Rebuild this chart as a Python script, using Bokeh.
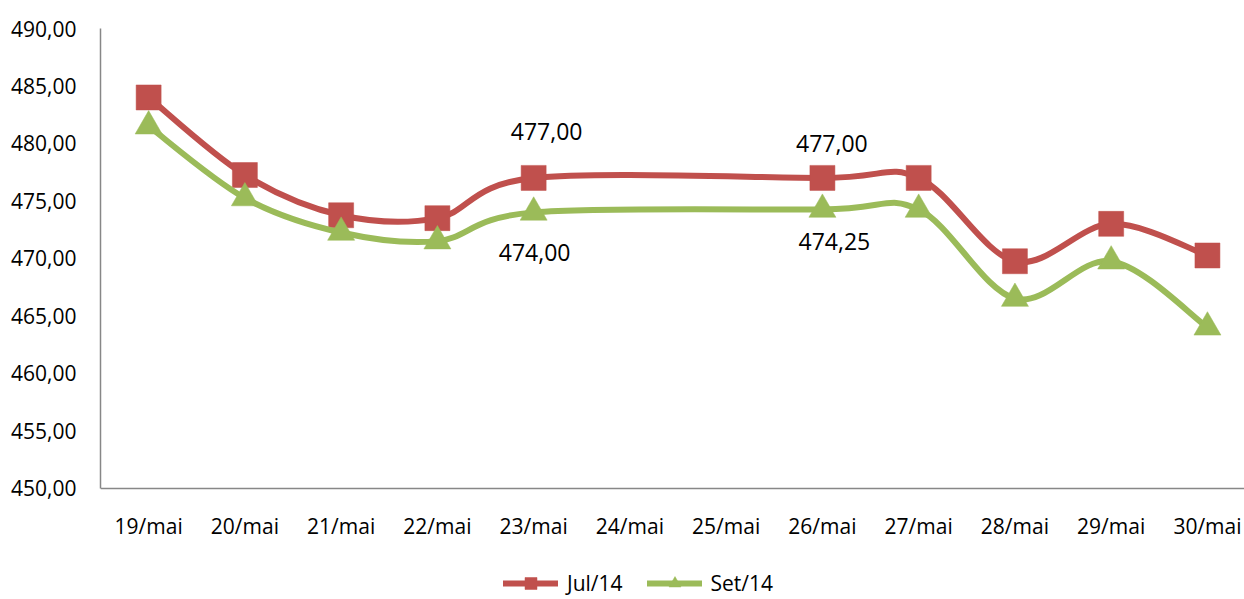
from bokeh.plotting import figure
from bokeh.models import ColumnDataSource, Range1d, FixedTicker, Legend, LegendItem
from bokeh.core.properties import value
from bokeh.embed import file_html
from bokeh.resources import INLINE

# ---------------- data ----------------
dates = ["19/mai", "20/mai", "21/mai", "22/mai", "23/mai", "24/mai",
         "25/mai", "26/mai", "27/mai", "28/mai", "29/mai", "30/mai"]
jul14 = [484.00, 477.25, 473.75, 473.50, 477.00, None, None,
         477.00, 477.00, 469.75, 473.00, 470.25]
set14 = [481.50, 475.25, 472.25, 471.50, 474.00, None, None,
         474.25, 474.25, 466.50, 469.75, 464.00]
y_ticks = [450, 455, 460, 465, 470, 475, 480, 485, 490]
labeled_dates = ["23/mai", "26/mai"]

RED = "#C0504D"
GREEN = "#9BBB59"
FONT = "Open Sans"

Y_MIN, Y_MAX = y_ticks[0], y_ticks[-1]
# frame spans the whole lower area; the value axis starts at Y_MIN
FRAME_TOP, AXIS_PX, FIG_H = 28, 487.7, 599
px_per_unit = (AXIS_PX - FRAME_TOP) / (Y_MAX - Y_MIN)
y_start = Y_MIN - (FIG_H - AXIS_PX) / px_per_unit


def fmt(v):
    return f"{v:.2f}".replace(".", ",")


def points(vals):
    xs = [i for i, v in enumerate(vals) if v is not None]
    ys = [v for v in vals if v is not None]
    return xs, ys


def bezier_source(xs, ys, t=1.0 / 6.0):
    n = len(xs)
    d = dict(x0=[], y0=[], x1=[], y1=[], cx0=[], cy0=[], cx1=[], cy1=[])
    for i in range(n - 1):
        a = i - 1 if i > 0 else i
        b = i + 2 if i + 2 < n else i + 1
        d["x0"].append(xs[i]); d["y0"].append(ys[i])
        d["x1"].append(xs[i + 1]); d["y1"].append(ys[i + 1])
        d["cx0"].append(xs[i] + (xs[i + 1] - xs[a]) * t)
        d["cy0"].append(ys[i] + (ys[i + 1] - ys[a]) * t)
        d["cx1"].append(xs[i + 1] - (xs[b] - xs[i]) * t)
        d["cy1"].append(ys[i + 1] - (ys[b] - ys[i]) * t)
    return ColumnDataSource(d)


p = figure(width=1244, height=FIG_H,
           x_range=Range1d(-0.5, 11.385), y_range=Range1d(y_start, Y_MAX),
           output_backend="svg", toolbar_location=None,
           min_border_left=100, min_border_right=0,
           min_border_top=FRAME_TOP, min_border_bottom=0)
p.outline_line_color = None
p.grid.visible = False
p.background_fill_color = "white"

# axes
p.xaxis.fixed_location = Y_MIN
p.xaxis.ticker = FixedTicker(ticks=list(range(len(dates))))
p.xaxis.major_label_overrides = {i: d for i, d in enumerate(dates)}
p.yaxis.ticker = FixedTicker(ticks=y_ticks)
p.yaxis.bounds = (Y_MIN, Y_MAX)
p.yaxis.major_label_overrides = {t: fmt(t) for t in y_ticks}
for ax in (p.xaxis[0], p.yaxis[0]):
    ax.axis_line_color = "#878787"
    ax.axis_line_width = 1.5
    ax.major_tick_line_color = None
    ax.minor_tick_line_color = None
    ax.major_tick_out = 0
    ax.major_tick_in = 0
    ax.major_label_text_font = FONT
    ax.major_label_text_font_size = "21px"
    ax.major_label_text_color = "black"
p.yaxis.major_label_standoff = 24
p.xaxis.major_label_standoff = 24

# series
renderers = {}
for name, vals, color, marker, msize in [("Jul/14", jul14, RED, "square", 25),
                                          ("Set/14", set14, GREEN, "triangle", 27)]:
    xs, ys = points(vals)
    line = p.bezier(x0="x0", y0="y0", x1="x1", y1="y1",
                    cx0="cx0", cy0="cy0", cx1="cx1", cy1="cy1",
                    source=bezier_source(xs, ys),
                    line_color=color, line_width=6, line_cap="round")
    marks = p.scatter(xs, ys, marker=marker, size=msize,
                      fill_color=color, line_color=color, line_width=0.5)
    renderers[name] = [line, marks]

# data labels
lab = dict(x=[], y=[], text=[], dx=[], dy=[])
offsets = {("Jul/14", "23/mai"): (13, -46), ("Jul/14", "26/mai"): (9.5, -34),
           ("Set/14", "23/mai"): (1, 40), ("Set/14", "26/mai"): (12, 32)}
for name, vals in [("Jul/14", jul14), ("Set/14", set14)]:
    for d in labeled_dates:
        i = dates.index(d)
        lab["x"].append(i)
        lab["y"].append(vals[i])
        lab["text"].append(fmt(vals[i]))
        dx, dy = offsets[(name, d)]
        lab["dx"].append(dx)
        lab["dy"].append(dy)
p.text(x="x", y="y", text="text", x_offset="dx", y_offset="dy",
       source=ColumnDataSource(lab), text_font=value(FONT),
       text_font_size=value("23px"), text_align="center",
       text_baseline="middle", text_color="black")

legend = Legend(items=[LegendItem(label=k, renderers=v) for k, v in renderers.items()],
                orientation="horizontal", location=(403, 1),
                padding=0, margin=0, spacing=24,
                glyph_width=55, glyph_height=30, label_height=30,
                label_standoff=9, border_line_color=None,
                background_fill_alpha=0,
                label_text_font=FONT, label_text_font_size="21px",
                label_text_color="black")
p.add_layout(legend)

open("out.html", "w").write(file_html(p, INLINE))
